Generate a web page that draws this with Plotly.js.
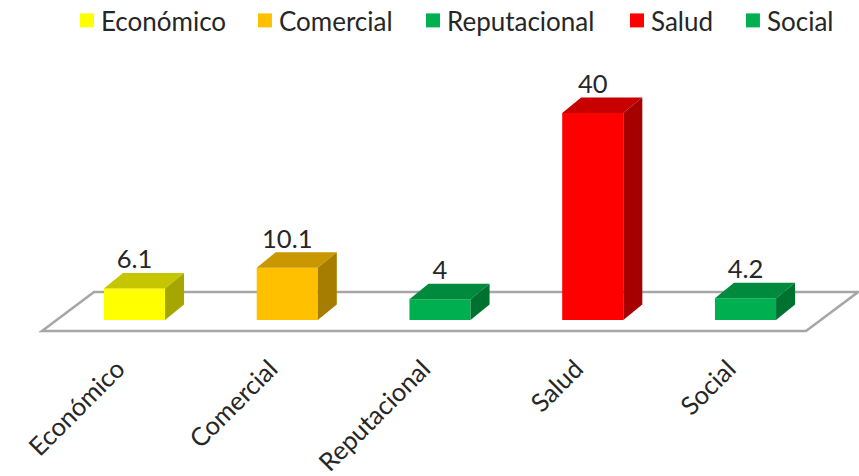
<!DOCTYPE html>
<html>
<head>
<meta charset="utf-8">
<script src="https://cdn.plot.ly/plotly-3.0.1.min.js"></script>
<style>html,body{margin:0;padding:0;background:#fff}#chart{width:859px;height:476px}</style>
</head>
<body>
<div id="chart"></div>
<script>
// Risk categories and their values
const categories = ['Económico', 'Comercial', 'Reputacional', 'Salud', 'Social'];
const values = [6.1, 10.1, 4, 40, 4.2];
const valueLabels = ['6.1', '10.1', '4', '40', '4.2'];

// Face shades for each box: front, top, side
const frontColors = ['#FFFF00', '#FFC000', '#00B050', '#FF0000', '#00B050'];
const topColors = ['#C6C600', '#C99700', '#008A3E', '#C80000', '#008A3E'];
const sideColors = ['#A6A600', '#A67D00', '#00722F', '#A60000', '#00722F'];

// Box proportions in axis units
const barWidth = 0.4;
const depthX = 0.1244;
const depthY = 3.0;
const labelLift = 2.65;
const textColor = '#262626';
const fontFamily = 'Lato, "Open Sans", sans-serif';

// One legend per category, spaced along the top edge
const legendLeft = [0.0768, 0.284, 0.4796, 0.7171, 0.8521];
const legendIds = ['legend', 'legend2', 'legend3', 'legend4', 'legend5'];

const positions = categories.map((_, i) => i);
const traces = [];

// Front faces carry the legend entries
categories.forEach((name, i) => {
  traces.push({
    type: 'bar', name: name, legend: legendIds[i], x: [positions[i]], y: [values[i]],
    width: barWidth,
    marker: {color: frontColors[i], line: {width: 0}},
    hoverinfo: 'name+y'
  });
});

// Top and side faces offset by the box depth
categories.forEach((name, i) => {
  const l = positions[i] - barWidth / 2, r = positions[i] + barWidth / 2, v = values[i];
  traces.push({
    type: 'scatter', mode: 'lines', showlegend: false, hoverinfo: 'skip', fill: 'toself',
    x: [l, r, r + depthX, l + depthX, l], y: [v, v, v + depthY, v + depthY, v],
    fillcolor: topColors[i], line: {width: 0}
  });
  traces.push({
    type: 'scatter', mode: 'lines', showlegend: false, hoverinfo: 'skip', fill: 'toself',
    x: [r, r + depthX, r + depthX, r, r], y: [0, depthY, v + depthY, v, 0],
    fillcolor: sideColors[i], line: {width: 0}
  });
});

// Value labels sit above the back edge of each box
traces.push({
  type: 'scatter', mode: 'text', showlegend: false, hoverinfo: 'skip',
  x: positions, y: values.map(v => v + labelLift), text: valueLabels,
  textposition: 'top center', textfont: {family: fontFamily, size: 25.5, color: textColor}
});

const layout = {
  width: 859, height: 476,
  paper_bgcolor: '#fff', plot_bgcolor: '#fff',
  margin: {l: 0, r: 0, t: 0, b: 131, pad: 0},
  barmode: 'overlay',
  showlegend: true,
  xaxis: {
    range: [-0.8805, 4.743], tickmode: 'array', tickvals: positions, ticktext: categories,
    tickangle: -45, showgrid: false, zeroline: false, showline: false, ticks: '',
    ticklabelshift: -17, ticklabelstandoff: 3,
    tickfont: {family: fontFamily, size: 25.5, color: textColor}, fixedrange: true
  },
  yaxis: {
    range: [-4.83, 61.84], showgrid: false, zeroline: false, showline: false,
    showticklabels: false, ticks: '', fixedrange: true
  },
  // Floor plane under the boxes
  shapes: [{
    type: 'path', layer: 'below', xref: 'x', yref: 'y',
    path: 'M -0.6056 -2.126 L 4.396 -2.126 L 4.737 5.41 L -0.265 5.41 Z',
    line: {color: '#A6A6A6', width: 2.5}, fillcolor: 'rgba(0,0,0,0)'
  }]
};

legendIds.forEach((id, i) => {
  layout[id] = {
    orientation: 'h', x: legendLeft[i], y: 1, xanchor: 'left', yanchor: 'top',
    indentation: -5,
    font: {family: fontFamily, size: 26, color: textColor},
    itemclick: false, itemdoubleclick: false, bgcolor: 'rgba(0,0,0,0)'
  };
});

Plotly.newPlot('chart', traces, layout, {displayModeBar: false, responsive: false}).then(() => {
  // Tighten the legends: larger swatches nearer their text, row closer to the top edge
  legendIds.forEach(id => {
    const box = document.querySelector('.infolayer .' + id);
    box.setAttribute('transform', 'translate(0,-3) ' + (box.getAttribute('transform') || ''));
    box.querySelectorAll('.traces .layers').forEach(g => {
      g.setAttribute('transform', 'translate(6,0) ' + (g.getAttribute('transform') || ''));
      g.querySelectorAll('path').forEach(p => p.setAttribute('d', 'M7,7H-7V-7H7Z'));
    });
  });
});
</script>
</body>
</html>
